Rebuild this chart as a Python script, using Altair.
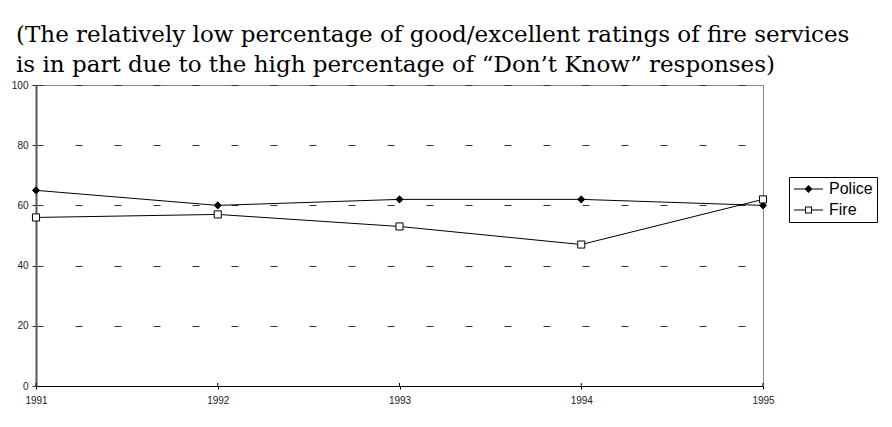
import altair as alt
import pandas as pd

years = [1991, 1992, 1993, 1994, 1995]
police = [65, 60, 62, 62, 60]
fire = [56, 57, 53, 47, 62]
series_names = ["Police", "Fire"]
y_ticks = [0, 20, 40, 60, 80, 100]
title_lines = [
    "(The relatively low percentage of good/excellent ratings of fire services",
    "is in part due to the high percentage of \u201cDon\u2019t Know\u201d responses)",
]

rows = []
for name, vals in zip(series_names, [police, fire]):
    for yr, v in zip(years, vals):
        rows.append({"year": yr, "value": v, "series": name})
df = pd.DataFrame(rows)
ticks_df = pd.DataFrame({"year": years})

# legend symbols: line + marker (unit = sqrt(size)/2 px)
police_sym = "M-1,-0.07H3.14V0.07H-1Z M1.07,-0.57L1.64,0L1.07,0.57L0.5,0Z"
fire_sym = ("M-1,-0.07H0.57V0.07H-1Z M1.57,-0.07H3.14V0.07H1.57Z "
            "M0.57,-0.5H1.57V0.5H0.57Z M0.71,-0.36V0.36H1.43V-0.36Z")

x_enc = alt.X("year:Q",
              scale=alt.Scale(domain=[years[0], years[-1]], nice=False, zero=False),
              axis=alt.Axis(values=years, format="d", title=None, grid=False,
                            domainColor="black", domainWidth=1, tickColor="black",
                            tickSize=3, labelFlush=False, labelPadding=6,
                            labelFont="Liberation Sans", labelFontSize=10,
                            labelColor="#222"))
y_enc = alt.Y("value:Q",
              scale=alt.Scale(domain=[0, 100], nice=False),
              axis=alt.Axis(values=y_ticks, title=None, grid=True, gridDash=[7, 32],
                            gridColor="#333", gridWidth=1, domainColor="#555",
                            domainWidth=2, tickColor="#333", tickSize=4,
                            labelPadding=4, labelFont="Liberation Sans",
                            labelFontSize=10, labelColor="#222"))

base = alt.Chart(df)

lines = base.mark_line(color="black", strokeWidth=1).encode(
    x=x_enc, y=y_enc, detail="series:N")

points = base.mark_point(filled=True, stroke="black", strokeWidth=1, size=50, opacity=1).encode(
    x="year:Q", y="value:Q",
    shape=alt.Shape("series:N", scale=alt.Scale(domain=series_names, range=["diamond", "square"]),
                    legend=None),
    fill=alt.Fill("series:N", scale=alt.Scale(domain=series_names, range=["black", "white"]),
                  legend=None),
)

inner_ticks = alt.Chart(ticks_df).mark_rule(color="black", strokeWidth=1).encode(
    x="year:Q", y=alt.datum(0), y2=alt.datum(1))

legend_layer = base.mark_point(filled=True, color="black").encode(
    shape=alt.Shape("series:N",
                    scale=alt.Scale(domain=series_names, range=[police_sym, fire_sym]),
                    legend=alt.Legend(title=None, orient="none", legendX=753, legendY=92,
                                      symbolSize=196, symbolFillColor="black",
                                      symbolStrokeWidth=0, symbolOpacity=1,
                                      labelFont="Liberation Sans", labelFontSize=16,
                                      labelColor="black", labelOffset=20, rowPadding=5,
                                      padding=4, fillColor="white", strokeColor="black"))
).transform_filter("false")

chart = alt.layer(lines, inner_ticks, points, legend_layer).resolve_scale(
    shape="independent"
).properties(
    width=727, height=301,
    padding={"left": 28, "top": 77, "right": 121, "bottom": 33},
    autosize="none",
    background="white",
    title=alt.TitleParams(text=title_lines, anchor="start", frame="group", dx=-20, offset=3,
                          font="DejaVu Serif", fontSize=23, fontWeight="normal",
                          color="black", lineHeight=30),
).configure_view(stroke="#888", strokeWidth=1)

chart.save("out.html", embed_options={"renderer": "svg", "actions": False})
